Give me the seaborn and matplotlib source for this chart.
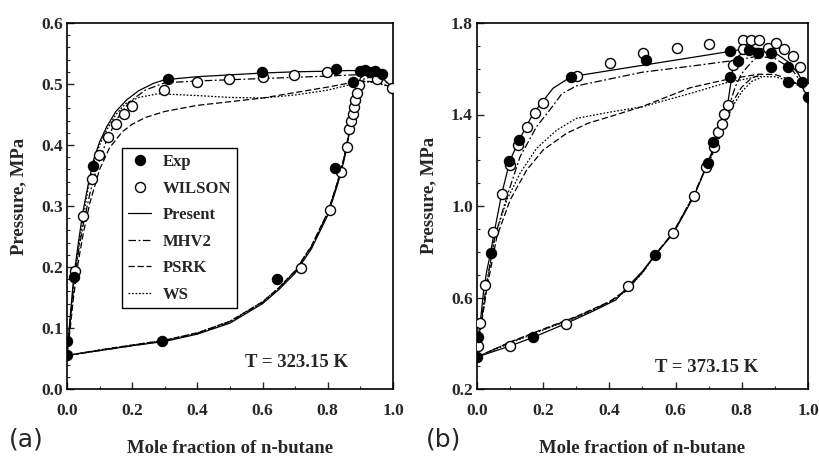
import numpy as np
import pandas as pd
import matplotlib
matplotlib.use("Agg")
import matplotlib.pyplot as plt
from matplotlib.lines import Line2D
from matplotlib.ticker import MultipleLocator
import seaborn as sns

# ---------------- data: panel (a), T = 323.15 K ----------------
a_exp_x = [0.0, 0.0, 0.021, 0.079, 0.311, 0.599, 0.825, 0.878, 0.90, 0.915, 0.93, 0.945, 0.967, 0.29, 0.645, 0.822]
a_exp_p = [0.055, 0.079, 0.184, 0.366, 0.508, 0.520, 0.525, 0.504, 0.522, 0.523, 0.520, 0.522, 0.516, 0.078, 0.180, 0.363]
a_wil_x = [0.025, 0.05, 0.076, 0.099, 0.125, 0.149, 0.175, 0.200, 0.298, 0.398, 0.498, 0.602, 0.697, 0.797, 0.897, 0.95, 0.996,
           0.717, 0.807, 0.840, 0.858, 0.866, 0.871, 0.876, 0.880, 0.883, 0.889]
a_wil_p = [0.194, 0.284, 0.344, 0.384, 0.413, 0.434, 0.451, 0.464, 0.490, 0.503, 0.508, 0.512, 0.514, 0.519, 0.498, 0.508, 0.494,
           0.199, 0.293, 0.356, 0.397, 0.426, 0.439, 0.451, 0.463, 0.474, 0.485]

a_pres_bub_x = [0, 0.01, 0.02, 0.035, 0.048, 0.065, 0.081, 0.1, 0.122, 0.15, 0.183, 0.22, 0.265, 0.3, 0.4, 0.5, 0.6, 0.7, 0.8, 0.86, 0.9, 0.93, 0.96, 1.0]
a_pres_bub_p = [0.055, 0.12, 0.18, 0.24, 0.288, 0.335, 0.375, 0.405, 0.43, 0.455, 0.474, 0.489, 0.501, 0.507, 0.512, 0.515, 0.518, 0.520, 0.521, 0.522, 0.522, 0.521, 0.513, 0.494]
a_pres_dew_x = [0, 0.1, 0.2, 0.3, 0.4, 0.5, 0.6, 0.65, 0.7, 0.75, 0.8, 0.83, 0.85, 0.87, 0.88, 0.89, 0.9, 0.93]
a_pres_dew_p = [0.055, 0.063, 0.071, 0.078, 0.09, 0.108, 0.14, 0.163, 0.19, 0.23, 0.285, 0.335, 0.375, 0.43, 0.46, 0.49, 0.51, 0.521]

a_mhv2_bub_x = [0, 0.01, 0.02, 0.035, 0.05, 0.07, 0.09, 0.12, 0.15, 0.19, 0.24, 0.3, 0.4, 0.5, 0.6, 0.7, 0.8, 0.88, 0.93, 0.97, 1.0]
a_mhv2_bub_p = [0.055, 0.11, 0.165, 0.225, 0.27, 0.32, 0.36, 0.405, 0.44, 0.47, 0.49, 0.502, 0.505, 0.507, 0.509, 0.511, 0.513, 0.515, 0.514, 0.507, 0.494]
a_mhv2_dew_x = [0, 0.1, 0.2, 0.3, 0.4, 0.5, 0.6, 0.65, 0.7, 0.75, 0.8, 0.83, 0.85, 0.87, 0.88, 0.89, 0.91, 0.94]
a_mhv2_dew_p = [0.055, 0.063, 0.071, 0.079, 0.091, 0.11, 0.142, 0.165, 0.193, 0.233, 0.288, 0.338, 0.378, 0.432, 0.462, 0.49, 0.508, 0.513]

a_psrk_bub_x = [0, 0.01, 0.02, 0.035, 0.05, 0.07, 0.1, 0.13, 0.17, 0.2, 0.24, 0.3, 0.4, 0.5, 0.6, 0.7, 0.8, 0.87, 0.91, 0.95, 1.0]
a_psrk_bub_p = [0.055, 0.1, 0.15, 0.21, 0.255, 0.305, 0.36, 0.395, 0.422, 0.434, 0.445, 0.455, 0.465, 0.471, 0.477, 0.486, 0.495, 0.502, 0.505, 0.503, 0.494]
a_psrk_dew_x = [0, 0.1, 0.2, 0.3, 0.4, 0.5, 0.6, 0.65, 0.7, 0.75, 0.8, 0.83, 0.85, 0.87, 0.88, 0.89, 0.91]
a_psrk_dew_p = [0.055, 0.064, 0.072, 0.080, 0.092, 0.111, 0.143, 0.166, 0.194, 0.235, 0.29, 0.34, 0.38, 0.434, 0.463, 0.488, 0.505]

a_ws_bub_x = [0, 0.01, 0.02, 0.035, 0.05, 0.065, 0.081, 0.1, 0.122, 0.15, 0.18, 0.22, 0.28, 0.4, 0.5, 0.6, 0.7, 0.8, 0.87, 0.91, 0.95, 1.0]
a_ws_bub_p = [0.055, 0.115, 0.17, 0.23, 0.28, 0.33, 0.37, 0.4, 0.425, 0.45, 0.468, 0.478, 0.484, 0.481, 0.478, 0.477, 0.482, 0.49, 0.499, 0.504, 0.502, 0.494]
a_ws_dew_x = [0, 0.1, 0.2, 0.3, 0.4, 0.5, 0.6, 0.65, 0.7, 0.75, 0.8, 0.83, 0.85, 0.87, 0.88, 0.89, 0.91]
a_ws_dew_p = [0.055, 0.064, 0.072, 0.080, 0.092, 0.111, 0.143, 0.166, 0.194, 0.234, 0.289, 0.339, 0.379, 0.433, 0.462, 0.487, 0.504]

# ---------------- data: panel (b), T = 373.15 K ----------------
b_exp_x = [0.0, 0.004, 0.041, 0.098, 0.127, 0.284, 0.511, 0.764, 0.823, 0.85, 0.888, 0.17, 0.538, 0.699, 0.714, 0.764, 0.789,
           0.888, 0.939, 0.939, 0.981, 1.0]
b_exp_p = [0.341, 0.429, 0.793, 1.198, 1.289, 1.565, 1.638, 1.676, 1.682, 1.668, 1.668, 0.426, 0.786, 1.187, 1.281, 1.563, 1.634,
           1.609, 1.609, 1.543, 1.543, 1.478]
b_wil_x = [0.004, 0.009, 0.024, 0.049, 0.075, 0.100, 0.125, 0.150, 0.175, 0.200, 0.301, 0.402, 0.502, 0.603, 0.702, 0.803, 0.827,
           0.852, 0.805, 0.878, 0.903, 0.928, 0.954, 0.976, 1.0, 0.1, 0.268, 0.457, 0.593, 0.656, 0.692, 0.716, 0.727, 0.739,
           0.747, 0.757, 0.774]
b_wil_p = [0.389, 0.49, 0.655, 0.885, 1.053, 1.179, 1.267, 1.347, 1.405, 1.452, 1.568, 1.627, 1.668, 1.690, 1.710, 1.726, 1.726,
           1.726, 1.686, 1.692, 1.711, 1.686, 1.656, 1.609, 1.515, 0.389, 0.484, 0.650, 0.880, 1.044, 1.169, 1.259, 1.325, 1.357,
           1.401, 1.442, 1.617]

b_pres_bub_x = [0, 0.004, 0.012, 0.02, 0.03, 0.041, 0.05, 0.075, 0.1, 0.13, 0.17, 0.2, 0.23, 0.284, 0.4, 0.5, 0.6, 0.7, 0.764, 0.8, 0.83, 0.86, 0.9, 0.94, 0.97, 1.0]
b_pres_bub_p = [0.34, 0.43, 0.52, 0.63, 0.72, 0.795, 0.87, 1.056, 1.2, 1.296, 1.405, 1.46, 1.515, 1.565, 1.592, 1.615, 1.638, 1.661, 1.676, 1.685, 1.69, 1.688, 1.67, 1.63, 1.58, 1.5]
b_pres_dew_x = [0, 0.1, 0.17, 0.27, 0.35, 0.42, 0.457, 0.5, 0.538, 0.593, 0.656, 0.692, 0.716, 0.734, 0.745, 0.757, 0.766, 0.774, 0.79, 0.81, 0.83]
b_pres_dew_p = [0.34, 0.388, 0.426, 0.487, 0.54, 0.59, 0.65, 0.715, 0.786, 0.88, 1.044, 1.169, 1.26, 1.34, 1.40, 1.442, 1.53, 1.617, 1.655, 1.68, 1.69]

b_mhv2_bub_x = [0, 0.004, 0.015, 0.03, 0.054, 0.09, 0.13, 0.18, 0.22, 0.256, 0.3, 0.4, 0.5, 0.65, 0.77, 0.85, 0.9, 0.95, 1.0]
b_mhv2_bub_p = [0.34, 0.41, 0.52, 0.67, 0.866, 1.04, 1.215, 1.347, 1.42, 1.49, 1.525, 1.555, 1.585, 1.612, 1.635, 1.655, 1.645, 1.6, 1.5]
b_mhv2_dew_x = [0, 0.1, 0.2, 0.3, 0.4, 0.45, 0.5, 0.54, 0.593, 0.656, 0.692, 0.72, 0.74, 0.76, 0.78, 0.8, 0.83, 0.85]
b_mhv2_dew_p = [0.34, 0.405, 0.46, 0.515, 0.58, 0.63, 0.71, 0.79, 0.885, 1.05, 1.17, 1.27, 1.35, 1.43, 1.52, 1.58, 1.63, 1.655]

b_psrk_bub_x = [0, 0.004, 0.015, 0.03, 0.06, 0.1, 0.15, 0.2, 0.271, 0.336, 0.4, 0.5, 0.644, 0.754, 0.85, 0.9, 0.95, 1.0]
b_psrk_bub_p = [0.34, 0.4, 0.5, 0.64, 0.866, 1.026, 1.157, 1.245, 1.318, 1.362, 1.39, 1.435, 1.517, 1.553, 1.576, 1.575, 1.55, 1.5]
b_psrk_dew_x = [0, 0.1, 0.2, 0.3, 0.4, 0.45, 0.5, 0.54, 0.593, 0.656, 0.692, 0.72, 0.745, 0.77, 0.8, 0.83, 0.86]
b_psrk_dew_p = [0.34, 0.405, 0.462, 0.517, 0.582, 0.632, 0.71, 0.79, 0.885, 1.05, 1.17, 1.26, 1.36, 1.45, 1.52, 1.56, 1.575]

b_ws_bub_x = [0, 0.004, 0.015, 0.03, 0.054, 0.09, 0.13, 0.18, 0.241, 0.3, 0.4, 0.5, 0.644, 0.754, 0.85, 0.9, 0.95, 1.0]
b_ws_bub_p = [0.34, 0.41, 0.51, 0.66, 0.866, 1.026, 1.143, 1.252, 1.332, 1.383, 1.41, 1.434, 1.492, 1.539, 1.566, 1.565, 1.545, 1.5]
b_ws_dew_x = [0, 0.1, 0.2, 0.3, 0.4, 0.45, 0.5, 0.54, 0.593, 0.656, 0.692, 0.72, 0.745, 0.77, 0.8, 0.83, 0.86]
b_ws_dew_p = [0.34, 0.4, 0.458, 0.512, 0.578, 0.628, 0.708, 0.788, 0.883, 1.048, 1.168, 1.25, 1.34, 1.43, 1.5, 1.545, 1.562]

legend_labels = ["Exp", "WILSON", "Present", "MHV2", "PSRK", "WS"]
temp_labels = ["T = 323.15 K", "T = 373.15 K"]
panel_labels = ["(a)", "(b)"]

# ---------------- styling ----------------
sns.set_style("ticks")
plt.rcParams["font.family"] = ["Liberation Serif", "DejaVu Serif"]
plt.rcParams["font.weight"] = "bold"
plt.rcParams["axes.labelweight"] = "bold"

LW = 0.9
styles = {
    "Present": "-",
    "MHV2": (0, (6, 2, 1.5, 2)),
    "PSRK": (0, (5, 2.2)),
    "WS": (0, (1.4, 1.4)),
}

fig = plt.figure(figsize=(8.2, 4.62), dpi=100)
axA = fig.add_axes([67 / 820, 1 - 389 / 462, 326 / 820, 366 / 462])
axB = fig.add_axes([477 / 820, 1 - 389 / 462, 331 / 820, 366 / 462])

panels = [
    (axA, a_exp_x, a_exp_p, a_wil_x, a_wil_p,
     {"Present": [(a_pres_bub_x, a_pres_bub_p), (a_pres_dew_x, a_pres_dew_p)],
      "MHV2": [(a_mhv2_bub_x, a_mhv2_bub_p), (a_mhv2_dew_x, a_mhv2_dew_p)],
      "PSRK": [(a_psrk_bub_x, a_psrk_bub_p), (a_psrk_dew_x, a_psrk_dew_p)],
      "WS": [(a_ws_bub_x, a_ws_bub_p), (a_ws_dew_x, a_ws_dew_p)]}),
    (axB, b_exp_x, b_exp_p, b_wil_x, b_wil_p,
     {"Present": [(b_pres_bub_x, b_pres_bub_p), (b_pres_dew_x, b_pres_dew_p)],
      "MHV2": [(b_mhv2_bub_x, b_mhv2_bub_p), (b_mhv2_dew_x, b_mhv2_dew_p)],
      "PSRK": [(b_psrk_bub_x, b_psrk_bub_p), (b_psrk_dew_x, b_psrk_dew_p)],
      "WS": [(b_ws_bub_x, b_ws_bub_p), (b_ws_dew_x, b_ws_dew_p)]}),
]

for ax, ex, ep, wx, wp, curves in panels:
    for name, branches in curves.items():
        for bx, bp in branches:
            df = pd.DataFrame({"x": bx, "p": bp})
            sns.lineplot(data=df, x="x", y="p", sort=False, estimator=None, ax=ax,
                         color="black", lw=LW, linestyle=styles[name], zorder=2)
    sns.scatterplot(x=wx, y=wp, ax=ax, s=52, color="white", edgecolor="black",
                    linewidth=1.0, zorder=3)
    sns.scatterplot(x=ex, y=ep, ax=ax, s=52, color="black", edgecolor="black",
                    linewidth=1.0, zorder=4)

for ax in (axA, axB):
    ax.set_xlim(0, 1.0)
    ax.xaxis.set_major_locator(MultipleLocator(0.2))
    ax.xaxis.set_minor_locator(MultipleLocator(0.1))
    ax.tick_params(which="both", direction="in", top=False, right=False)
    ax.tick_params(which="major", length=5, width=1.0, labelsize=12.5)
    ax.tick_params(which="minor", length=2.5, width=0.8)
    ax.tick_params(axis="x", which="major", pad=10)
    ax.tick_params(axis="y", which="major", pad=3)
    for sp in ax.spines.values():
        sp.set_visible(True)
        sp.set_linewidth(1.2)
        sp.set_color("black")
    ax.set_xlabel("Mole fraction of n-butane", fontsize=13.5, fontweight="bold")
    ax.set_ylabel("Pressure, MPa", fontsize=13.5, fontweight="bold")
    ax.xaxis.set_label_coords(0.5, -0.138)

axA.set_ylim(0, 0.6)
axA.yaxis.set_minor_locator(MultipleLocator(0.02))
axA.set_xticks([0, 0.2, 0.4, 0.6, 0.8, 1.0])
axA.set_xticklabels(["0.0", "0.2", "0.4", "0.6", "0.8", "1.0"])
axA.set_yticks([0, 0.1, 0.2, 0.3, 0.4, 0.5, 0.6])
axA.set_yticklabels(["0.0", "0.1", "0.2", "0.3", "0.4", "0.5", "0.6"])
axA.yaxis.set_label_coords(-0.123, 0.525)

axB.set_ylim(0.2, 1.8)
axB.set_yticks([0.2, 0.6, 1.0, 1.4, 1.8])
axB.set_yticklabels(["0.2", "0.6", "1.0", "1.4", "1.8"])
axB.yaxis.set_minor_locator(MultipleLocator(0.1))
axB.set_xticks([0, 0.2, 0.4, 0.6, 0.8, 1.0])
axB.set_xticklabels(["0.0", "0.2", "0.4", "0.6", "0.8", "1.0"])
axB.yaxis.set_label_coords(-0.121, 0.53)

for ax in (axA, axB):
    for lab in ax.get_xticklabels() + ax.get_yticklabels():
        lab.set_fontweight("bold")
        lab.set_fontsize(12.5)

axA.text(0.546, 0.043, temp_labels[0], fontsize=13.5, fontweight="bold", va="center", ha="left")
axB.text(0.538, 0.296, temp_labels[1], fontsize=13.5, fontweight="bold", va="center", ha="left")

fig.text(0.032, 0.048, panel_labels[0], fontsize=18, family="DejaVu Sans", ha="center", va="center", fontweight="normal")
fig.text(0.541, 0.048, panel_labels[1], fontsize=18, family="DejaVu Sans", ha="center", va="center", fontweight="normal")

handles = [
    Line2D([], [], marker="o", ls="none", color="black", mfc="black", ms=7.2),
    Line2D([], [], marker="o", ls="none", color="black", mfc="white", ms=7.2, mew=1.0),
    Line2D([], [], color="black", lw=LW, ls=styles["Present"]),
    Line2D([], [], color="black", lw=LW, ls=styles["MHV2"]),
    Line2D([], [], color="black", lw=LW, ls=styles["PSRK"]),
    Line2D([], [], color="black", lw=LW, ls=styles["WS"]),
]
leg = axA.legend(handles, legend_labels, loc="upper left", bbox_to_anchor=(0.169, 0.658),
                 borderaxespad=0, frameon=True, fancybox=False, edgecolor="black",
                 prop={"family": ["Liberation Serif"], "weight": "bold", "size": 12},
                 handlelength=1.4, handletextpad=0.7, labelspacing=0.63, borderpad=0.35)
leg.get_frame().set_linewidth(1.0)
leg.get_frame().set_alpha(1)

fig.savefig("out.png", dpi=100)
